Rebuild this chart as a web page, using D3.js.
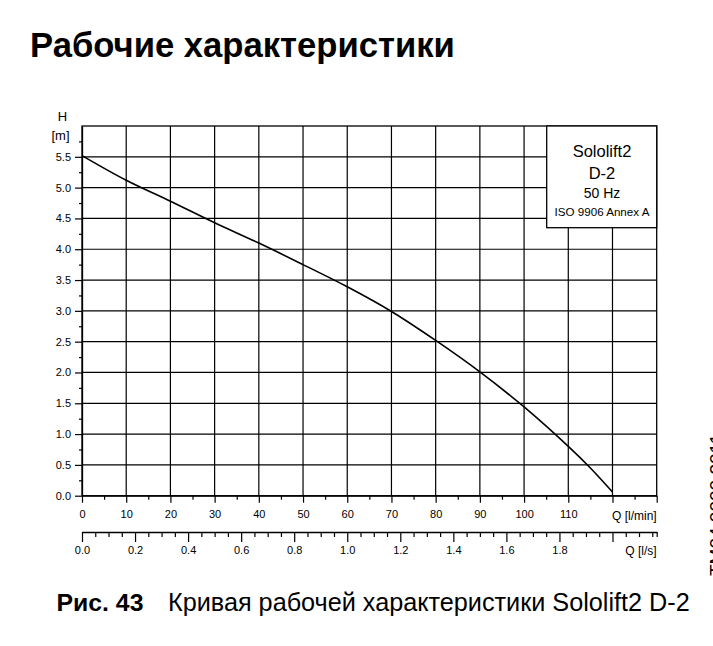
<!DOCTYPE html>
<html>
<head>
<meta charset="utf-8">
<script src="https://cdn.jsdelivr.net/npm/d3@7"></script>
<style>
  body { margin: 0; background: #fff; overflow: hidden; }
  svg { display: block; font-family: "Liberation Sans", Arial, sans-serif; }
</style>
</head>
<body>
<svg></svg>
<script>
// pump curve: flow in l/min, head in m
let flowLpm = [0, 10, 20, 30, 40, 50, 60, 70, 80, 90, 100, 110, 115, 120];
let headM = [5.52, 5.12, 4.78, 4.43, 4.10, 3.75, 3.39, 2.99, 2.52, 2.01, 1.44, 0.80, 0.45, 0.06];
// tick labels
let headTicks = [0, 0.5, 1, 1.5, 2, 2.5, 3, 3.5, 4, 4.5, 5, 5.5];
let lpmTicks = [0, 10, 20, 30, 40, 50, 60, 70, 80, 90, 100, 110];
let lpsTicks = [0, 0.2, 0.4, 0.6, 0.8, 1.0, 1.2, 1.4, 1.6, 1.8];
let legendLines = ["Sololift2", "D-2", "50 Hz", "ISO 9906 Annex A"];

let width = 713;
let height = 646;
//plot frame in pixels
let plotLeft = 82, plotRight = 656.7, plotTop = 126, plotBottom = 495.7;
let maxQ = 130, maxH = 6;

let svg = d3.select("svg").attr("width", width).attr("height", height);

let xScale = d3.scaleLinear().domain([0, maxQ]).range([plotLeft, plotRight]);
let yScale = d3.scaleLinear().domain([0, maxH]).range([plotBottom, plotTop]);
// second flow axis in l/s shares the same pixels
let xsScale = d3.scaleLinear().domain([0, maxQ / 60]).range([plotLeft, plotRight]);

// fit a text element to a target width by changing its font size
let fitText = (sel, target) => {
  let size = parseFloat(sel.attr("font-size"));
  let len = sel.node().getComputedTextLength();
  sel.attr("font-size", (size * target) / len);
};

// title
let title = svg.append("text")
  .attr("x", 30).attr("y", 57)
  .attr("font-size", 32).attr("font-weight", "bold")
  .text("Рабочие характеристики");
fitText(title, 425);

// grid
let grid = svg.append("g").attr("stroke", "#000").attr("stroke-width", 1.2);
grid.selectAll("line.v")
  .data(d3.range(10, maxQ, 10))
  .enter().append("line")
  .attr("x1", (d) => xScale(d)).attr("x2", (d) => xScale(d))
  .attr("y1", plotTop).attr("y2", plotBottom);
grid.selectAll("line.h")
  .data(d3.range(0.5, maxH, 0.5))
  .enter().append("line")
  .attr("x1", plotLeft).attr("x2", plotRight)
  .attr("y1", (d) => yScale(d)).attr("y2", (d) => yScale(d));
svg.append("rect")
  .attr("x", plotLeft).attr("y", plotTop)
  .attr("width", plotRight - plotLeft).attr("height", plotBottom - plotTop)
  .attr("fill", "none").attr("stroke", "#000").attr("stroke-width", 1.3);

// curve
let line = d3.line()
  .x((d) => xScale(d[0]))
  .y((d) => yScale(d[1]))
  .curve(d3.curveCatmullRom.alpha(0.5));
svg.append("path")
  .datum(flowLpm.map((q, i) => [q, headM[i]]))
  .attr("d", line)
  .attr("fill", "none").attr("stroke", "#000").attr("stroke-width", 1.6);

// legend box
svg.append("rect")
  .attr("x", 546.7).attr("y", plotTop)
  .attr("width", plotRight - 546.7).attr("height", 101.7)
  .attr("fill", "#fff").attr("stroke", "#000").attr("stroke-width", 1.3);
let legendY = [156.5, 179, 197.5, 216.4];
let legendSize = [16.5, 16.5, 14, 11.6];
svg.selectAll("text.legend")
  .data(legendLines)
  .enter().append("text")
  .attr("class", "legend")
  .attr("x", 602).attr("y", (d, i) => legendY[i])
  .attr("text-anchor", "middle")
  .attr("font-size", (d, i) => legendSize[i])
  .text((d) => d);

let styleAxis = (g) => {
  g.select(".domain").attr("stroke", "#000").attr("stroke-width", 1.3);
  g.selectAll(".tick line").attr("stroke", "#000").attr("stroke-width", 1.2);
  g.selectAll(".tick text").attr("fill", "#000").attr("font-size", 11)
    .attr("font-family", "Liberation Sans, Arial, sans-serif");
};

// y axis: labelled ticks every 0.5, minor every 0.25
let yAxis = d3.axisLeft(yScale).tickValues(headTicks).tickSize(7).tickPadding(4)
  .tickFormat(d3.format(".1f")).tickSizeOuter(0);
svg.append("g").attr("transform", "translate(" + plotLeft + ",0)").call(yAxis).call(styleAxis);
let yMinor = d3.axisLeft(yScale).tickValues(d3.range(0.25, maxH, 0.5)).tickSize(3)
  .tickFormat("").tickSizeOuter(0);
svg.append("g").attr("transform", "translate(" + plotLeft + ",0)").call(yMinor).call(styleAxis)
  .call((g) => g.select(".domain").remove());

svg.append("text").attr("x", 62.5).attr("y", 121).attr("text-anchor", "middle")
  .attr("font-size", 13).text("H");
svg.append("text").attr("x", 60.5).attr("y", 139.5).attr("text-anchor", "middle")
  .attr("font-size", 13).text("[m]");

// x axis in l/min
let xAxis = d3.axisBottom(xScale).tickValues(d3.range(0, maxQ + 1, 10)).tickSize(7).tickPadding(8)
  .tickFormat((d) => (lpmTicks.includes(d) ? d : "")).tickSizeOuter(0);
svg.append("g").attr("transform", "translate(0," + plotBottom + ")").call(xAxis).call(styleAxis);
let xMinor = d3.axisBottom(xScale).tickValues(d3.range(5, maxQ, 10)).tickSize(4)
  .tickFormat("").tickSizeOuter(0);
svg.append("g").attr("transform", "translate(0," + plotBottom + ")").call(xMinor).call(styleAxis)
  .call((g) => g.select(".domain").remove());
svg.append("text").attr("x", plotRight).attr("y", 520).attr("text-anchor", "end")
  .attr("font-size", 12).text("Q [l/min]");

// x axis in l/s
let lpsY = 532;
let xsAxis = d3.axisBottom(xsScale).tickValues(d3.range(0, 2.01, 0.2)).tickSize(10).tickPadding(4)
  .tickFormat((d) => (lpsTicks.some((t) => Math.abs(t - d) < 1e-6) ? d3.format(".1f")(d) : ""))
  .tickSizeOuter(0);
svg.append("g").attr("transform", "translate(0," + lpsY + ")").call(xsAxis).call(styleAxis);
let minorLps = d3.range(0.05, maxQ / 60, 0.05).filter((d) => Math.abs(d / 0.2 - Math.round(d / 0.2)) > 1e-6);
minorLps.push(maxQ / 60);
let xsMinor = d3.axisBottom(xsScale).tickValues(minorLps).tickSize(5).tickFormat("").tickSizeOuter(0);
svg.append("g").attr("transform", "translate(0," + lpsY + ")").call(xsMinor).call(styleAxis)
  .call((g) => g.select(".domain").remove());
svg.append("text").attr("x", plotRight).attr("y", 555).attr("text-anchor", "end")
  .attr("font-size", 12).text("Q [l/s]");

// drawing number on the right edge, mostly cut off by the page like in the source
svg.append("text")
  .attr("transform", "translate(723,576) rotate(-90)")
  .attr("font-size", 19)
  .text("TM04 0000 2011");

// caption
let capBold = svg.append("text")
  .attr("x", 56.5).attr("y", 611)
  .attr("font-size", 23).attr("font-weight", "bold")
  .text("Рис. 43");
fitText(capBold, 87);
let capText = svg.append("text")
  .attr("x", 168).attr("y", 611)
  .attr("font-size", 23)
  .text("Кривая рабочей характеристики Sololift2 D-2");
fitText(capText, 522);
</script>
</body>
</html>
